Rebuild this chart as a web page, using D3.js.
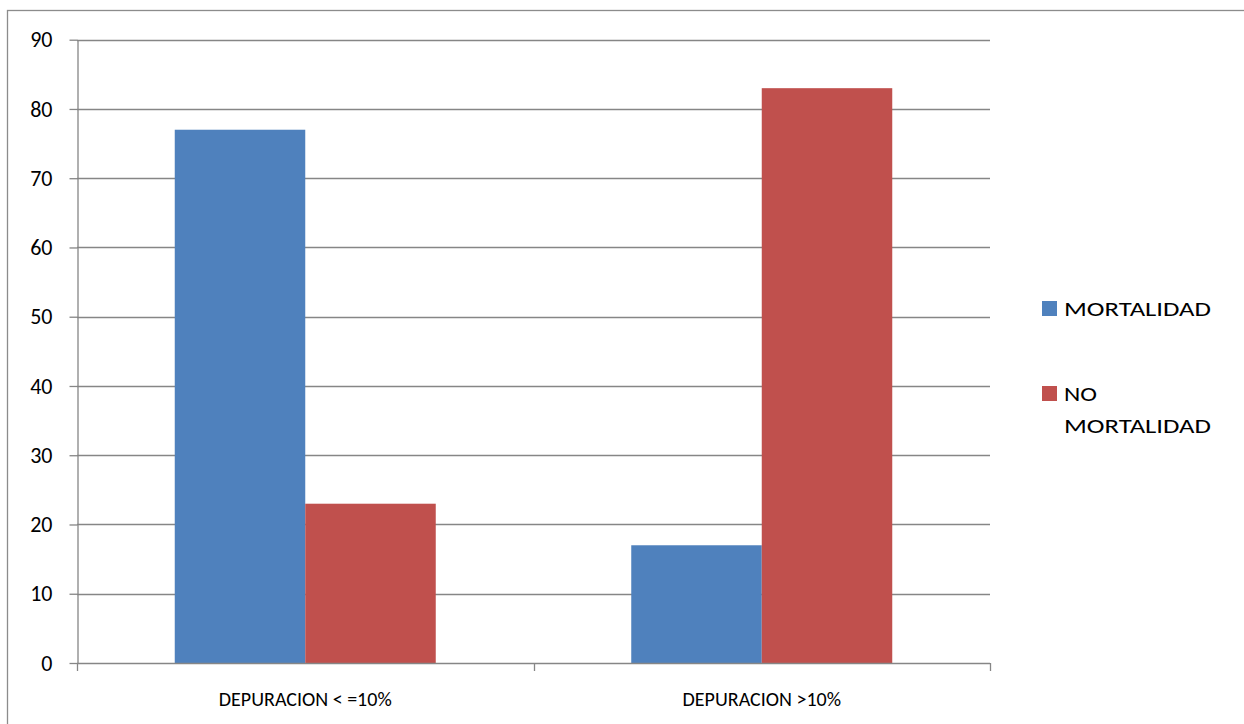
<!DOCTYPE html>
<html>
<head>
<meta charset="utf-8">
<script src="https://cdn.jsdelivr.net/npm/d3@7"></script>
<style>
  html, body { margin: 0; padding: 0; background: #fff; }
  svg text { font-family: Carlito, Lato, "Open Sans", sans-serif; fill: #000; }
</style>
</head>
<body>
<svg id="chart" width="1244" height="724"></svg>
<script>
// Data
const categories = ["DEPURACION < =10%", "DEPURACION >10%"];
const seriesNames = ["MORTALIDAD", "NO MORTALIDAD"];
const mortalidad = [77, 17];
const noMortalidad = [23, 83];
const yTicks = [0, 10, 20, 30, 40, 50, 60, 70, 80, 90];
const seriesColors = ["#4F81BD", "#C0504D"];

const svg = d3.select("#chart");

// Outer frame (extends past the right/bottom edges)
svg.append("rect")
  .attr("x", 7.5).attr("y", 10.5)
  .attr("width", 1300).attr("height", 800)
  .attr("fill", "none").attr("stroke", "#8c8c8c").attr("stroke-width", 1.3);

const plot = { left: 77, right: 990, top: 39.7, bottom: 663 };

const y = d3.scaleLinear().domain([0, 90]).range([plot.bottom, plot.top]);
const x0 = d3.scaleBand().domain(categories).range([plot.left, plot.right])
  .paddingInner(0).paddingOuter(0);
const groupWidth = 261;
const x1 = d3.scaleBand().domain(seriesNames).range([0, groupWidth]).padding(0);

// Gridlines
svg.append("g").selectAll("line").data(yTicks.filter(d => d > 0)).join("line")
  .attr("x1", plot.left).attr("x2", plot.right)
  .attr("y1", d => Math.round(y(d)) + 0.5).attr("y2", d => Math.round(y(d)) + 0.5)
  .attr("stroke", "#868686").attr("stroke-width", 1.3);

// Bars
const rows = categories.map((c, i) => ({ cat: c, vals: [mortalidad[i], noMortalidad[i]] }));
const groups = svg.append("g").selectAll("g").data(rows).join("g")
  .attr("transform", d => `translate(${x0(d.cat) + (x0.bandwidth() - groupWidth) / 2},0)`);
groups.selectAll("rect").data(d => d.vals.map((v, j) => ({ name: seriesNames[j], v, j }))).join("rect")
  .attr("x", d => x1(d.name))
  .attr("width", x1.bandwidth())
  .attr("y", d => y(d.v))
  .attr("height", d => y(0) - y(d.v))
  .attr("fill", d => seriesColors[d.j]);

// Y axis
const yAxis = svg.append("g").attr("transform", `translate(${plot.left + 0.5},0)`)
  .call(d3.axisLeft(y).tickValues(yTicks).tickSize(8).tickSizeOuter(0).tickPadding(17));
yAxis.select(".domain").attr("stroke", "#868686").attr("stroke-width", 1.3);
yAxis.selectAll(".tick line").attr("stroke", "#868686").attr("stroke-width", 1.3);
yAxis.selectAll(".tick text").attr("font-size", 22).attr("fill", "#000")
  .style("font-family", "Carlito, Lato, sans-serif");

// X axis baseline and ticks at category boundaries
svg.append("line")
  .attr("x1", plot.left).attr("x2", plot.right)
  .attr("y1", plot.bottom + 0.5).attr("y2", plot.bottom + 0.5)
  .attr("stroke", "#868686").attr("stroke-width", 1.3);
const boundaries = [plot.left, ...categories.map(c => x0(c) + x0.bandwidth())];
svg.append("g").selectAll("line").data(boundaries).join("line")
  .attr("x1", d => Math.round(d) + 0.5).attr("x2", d => Math.round(d) + 0.5)
  .attr("y1", plot.bottom).attr("y2", plot.bottom + 8)
  .attr("stroke", "#868686").attr("stroke-width", 1.3);

// Category labels
svg.append("g").selectAll("text").data(categories).join("text")
  .attr("x", d => x0(d) + x0.bandwidth() / 2)
  .attr("y", 706)
  .attr("text-anchor", "middle")
  .attr("font-size", 20)
  .text(d => d);

// Legend
const legend = svg.append("g");
const legendItems = [
  { lines: ["MORTALIDAD"], color: seriesColors[0], y: 316 },
  { lines: ["NO", "MORTALIDAD"], color: seriesColors[1], y: 401 }
];
legendItems.forEach(item => {
  legend.append("rect")
    .attr("x", 1042).attr("y", item.y - 15)
    .attr("width", 15).attr("height", 15)
    .attr("fill", item.color);
  item.lines.forEach((ln, k) => {
    const t = legend.append("text")
      .attr("x", 1064).attr("y", item.y + k * 32)
      .attr("font-size", 21)
      .text(ln);
    if (ln === "MORTALIDAD") t.attr("textLength", 147).attr("lengthAdjust", "spacingAndGlyphs");
    if (ln === "NO") t.attr("textLength", 33).attr("lengthAdjust", "spacingAndGlyphs");
  });
});
</script>
</body>
</html>
